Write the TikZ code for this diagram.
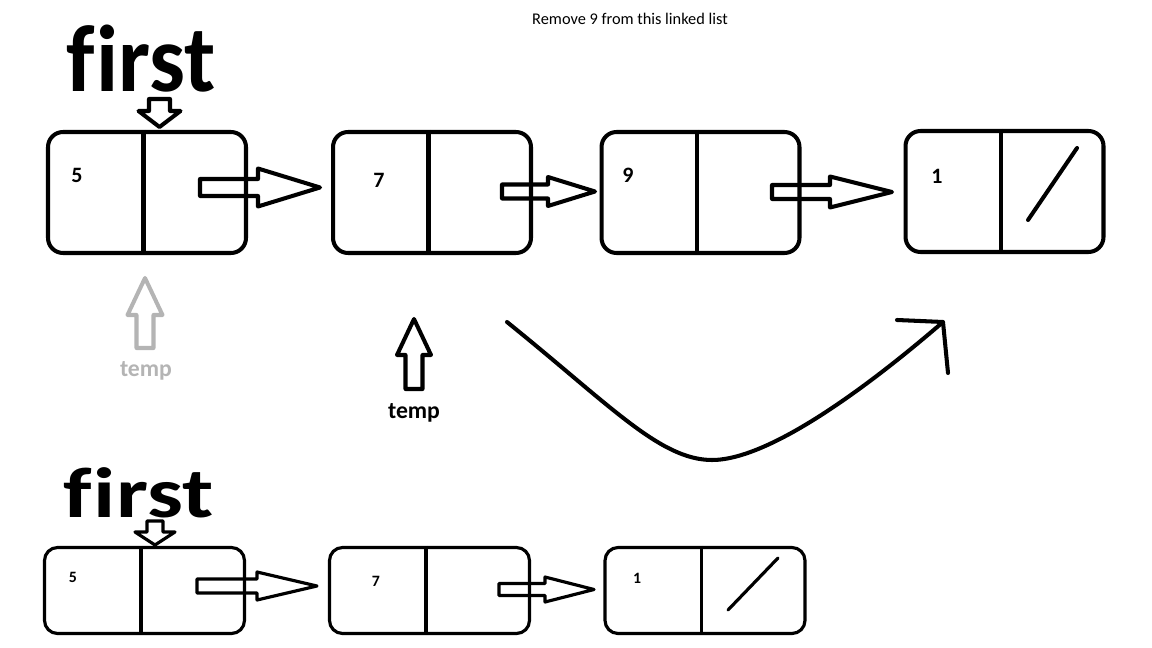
\documentclass[tikz,border=0pt]{standalone}
\usepackage{fontspec}
\setmainfont{Carlito}[Ligatures=NoCommon]
\usetikzlibrary{calc}
\definecolor{faded}{RGB}{180,180,180}
\tikzset{
  pics/blk/.style args={#1/#2/#3/#4}{code={
    \draw (0,-#3) -- ({#1-#2},-#3) -- ({#1-#2},-#4) -- (#1,0) -- ({#1-#2},#4) -- ({#1-#2},#3) -- (0,#3) -- cycle;}}
}
\begin{document}
\begin{tikzpicture}[x=0.02cm,y=-0.02cm,line join=round,line cap=round,
    cell/.style={draw,line width=2.3pt,rounded corners=0.3cm,minimum width=3.96cm,minimum height=2.42cm,inner sep=0pt},
    cellb/.style={draw,line width=1.8pt,rounded corners=0.26cm,minimum width=4cm,minimum height=1.72cm,inner sep=0pt},
    num/.style={font=\bfseries\fontsize{12.5}{12.5}\selectfont,inner sep=0pt},
    numb/.style={font=\bfseries\fontsize{9}{9}\selectfont,inner sep=0pt},
    big/.style={font=\bfseries\fontsize{54}{54}\selectfont,inner sep=0pt,anchor=base},
    small/.style={font=\bfseries\fontsize{13.5}{13.5}\selectfont,inner sep=0pt,anchor=base}]
  \useasboundingbox (0,0) rectangle (1152,648);
  \node[font=\fontsize{9.3}{9.3}\selectfont] (title) at (630,19) {Remove 9 from this linked list};
  % list before
  \node[big,xscale=0.95] (first) at (141,92) {f\kern1pt irst};
  \node[cell] (c5) at (147,192.5) {};
  \node[cell] (c7) at (432,192.5) {};
  \node[cell] (c9) at (700.5,192.5) {};
  \node[cell] (c1) at (1004.5,191.5) {};
  \foreach \n in {c5,c7,c9,c1}
    \draw[line width=2.3pt,line cap=butt] ($(\n.north)+(-3.5,0)$) -- ($(\n.south)+(-3.5,0)$);
  \node[num] (v5) at (77,175) {5};
  \node[num] (v7) at (379,180) {7};
  \node[num] (v9) at (628,175) {9};
  \node[num] (v1) at (937,176) {1};
  \draw[line width=2.3pt] (1028,220) -- (1077,148);
  \pic[line width=2.3pt] at (200,187.5) {blk=120/62/8.5/19};
  \pic[line width=2.3pt] at (502,191.5) {blk=93/47/7/14.5};
  \pic[line width=2.3pt] at (772,192) {blk=120/62/7/15.5};
  \pic[line width=2.3pt,rotate=-90] at (159.5,99) {blk=28/16/10.5/21};
  % the two temps
  \pic[line width=2.3pt,faded,rotate=90] at (145,348) {blk=70/37/8.5/17.5};
  \node[small,faded] (t1) at (146,377) {temp};
  \pic[line width=2.3pt,rotate=90] at (414,389) {blk=70/36/8.5/17};
  \node[small] (t2) at (414,418) {temp};
  \draw[line width=2.3pt] (507,322) .. controls (610,405) and (660,460) .. (712,460)
    .. controls (770,460) and (870,385) .. (943,322);
  \draw[line width=2.3pt] (897,320) -- (943,322) -- (948,373);
  % list after
  \node[big,xscale=0.95,yscale=0.75] (firstb) at (138.5,517) {f\kern1pt irst};
  \node[cellb] (d5) at (144.5,590.5) {};
  \node[cellb] (d7) at (429.5,590.5) {};
  \node[cellb] (d1) at (705,590.5) {};
  \foreach \n in {d5,d7,d1}
    \draw[line width=1.8pt,line cap=butt] ($(\n.north)+(-3.5,0)$) -- ($(\n.south)+(-3.5,0)$);
  \node[numb] (w5) at (73,577) {5};
  \node[numb] (w7) at (376,581) {7};
  \node[numb] (w1) at (637,578) {1};
  \draw[line width=1.8pt] (728,610) -- (778,558);
  \pic[line width=1.8pt] at (197,586) {blk=120/60/7/14};
  \pic[line width=1.8pt] at (499,589.5) {blk=95/49/6/12.5};
  \pic[line width=1.8pt,rotate=-90] at (155,521) {blk=24/13/8/20};
\end{tikzpicture}
\end{document}
